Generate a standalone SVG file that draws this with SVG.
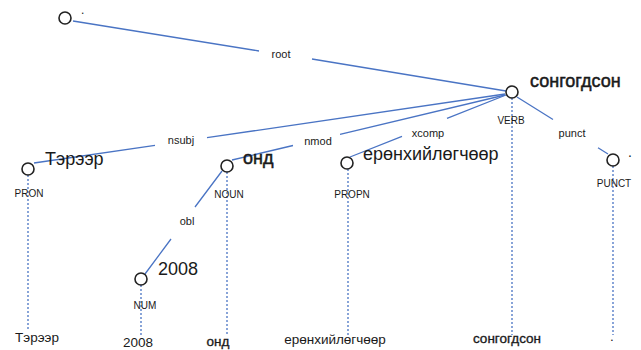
<svg xmlns="http://www.w3.org/2000/svg" width="641" height="350" viewBox="0 0 641 350">
<style>
.edge{stroke:#4a74c4;stroke-width:1.3;fill:none}
.dot{stroke:#4a74c4;stroke-width:1.3;stroke-dasharray:2 2;fill:none}
.node{fill:#fff;stroke:#222;stroke-width:1.6}
text{font-family:"Liberation Sans",Arial,sans-serif;fill:#1a1a1a}
.word{font-size:18px}
.heavy{font-size:18px;stroke:#1a1a1a;stroke-width:0.5}
.pos{font-size:10px;text-anchor:middle}
.rel{font-size:11px;text-anchor:middle}
.low{font-size:13.5px;text-anchor:middle}
.lowh{stroke:#1a1a1a;stroke-width:0.35}
</style>
<rect width="641" height="350" fill="#fff"/>
<g id="connectors">
<path class="edge" d="M73 21 L259 51 M312 59 L506 91"/>
<path class="edge" d="M34 163 L155 145.3 M207 137.7 L505 94"/>
<path class="edge" d="M232 160 L293 145.5 M340 134.3 L505 95"/>
<path class="edge" d="M350 157 L402 136.3 M447 118.4 L506 95"/>
<path class="edge" d="M517 97 L553 119.5 M598 147.7 L608 154"/>
<path class="edge" d="M222 171 L195 207 M171 239 L145 274"/>
<path class="dot" d="M28 175 V329 M141 285 V337 M227 172 V335 M348 169 V337 M512 98 V335 M613 166 V335"/>
<text class="rel" x="281" y="58">root</text>
<text class="rel" x="181" y="144">nsubj</text>
<text class="rel" x="318" y="145">nmod</text>
<text class="rel" x="428" y="137">xcomp</text>
<text class="rel" x="572" y="137">punct</text>
<text class="rel" x="187" y="225">obl</text>
</g>
<g id="root">
<circle class="node" cx="65" cy="18" r="6"/>
<text x="81" y="14" font-size="12">.</text>
</g>
<g id="verb">
<circle class="node" cx="512" cy="92" r="6"/>
<text class="heavy" x="530" y="87">сонгогдсон</text>
<text class="pos" x="511" y="124">VERB</text>
<text class="low lowh" x="507" y="343">сонгогдсон</text>
</g>
<g id="tereer">
<circle class="node" cx="28" cy="169" r="6"/>
<text class="word" x="45" y="165">Тэрээр</text>
<text class="pos" x="29" y="197">PRON</text>
<text class="low" x="37" y="342">Тэрээр</text>
</g>
<g id="ond">
<circle class="node" cx="227" cy="166" r="6"/>
<text class="heavy" x="243" y="164">онд</text>
<text class="pos" x="229" y="198">NOUN</text>
<text class="low lowh" x="218" y="346">онд</text>
</g>
<g id="yeronhiilogchoor">
<circle class="node" cx="347" cy="163" r="6"/>
<text class="word" x="363" y="160">ерөнхийлөгчөөр</text>
<text class="pos" x="352" y="198">PROPN</text>
<text class="low" x="335" y="344">ерөнхийлөгчөөр</text>
</g>
<g id="n2008">
<circle class="node" cx="141" cy="279" r="6"/>
<text class="word" x="158" y="275">2008</text>
<text class="pos" x="145" y="309">NUM</text>
<text class="low" x="138" y="346.5">2008</text>
</g>
<g id="punct">
<circle class="node" cx="613" cy="160" r="6"/>
<text x="628" y="157" font-size="14">.</text>
<text class="pos" x="614" y="187">PUNCT</text>
<text class="low" x="612" y="341">.</text>
</g>
</svg>
